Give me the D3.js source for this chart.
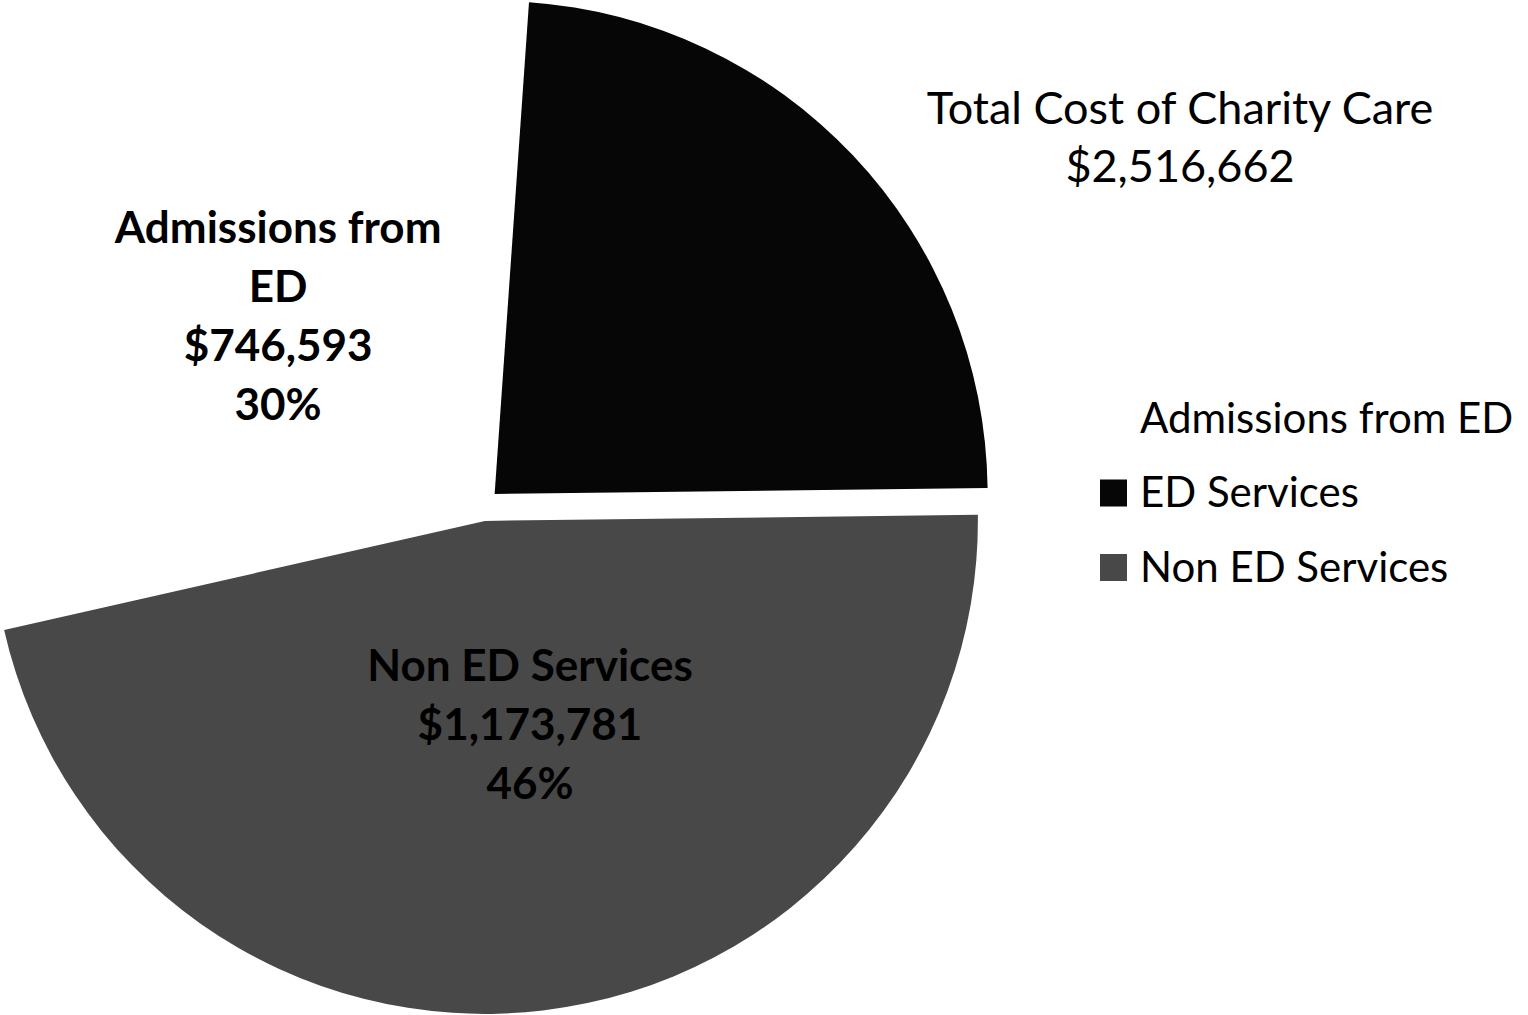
<!DOCTYPE html>
<html>
<head>
<meta charset="utf-8">
<script src="https://cdn.jsdelivr.net/npm/d3@7"></script>
<style>
  html, body { margin: 0; padding: 0; background: #fff; }
  svg { display: block; }
  text { font-family: Lato, "Open Sans", sans-serif; fill: #000; }
</style>
</head>
<body>
<div id="chart"></div>
<script>
// data
var categories = ["Admissions from ED", "ED Services", "Non ED Services"];
var costs = [746593, 596288, 1173781];
var percentLabels = ["30%", "24%", "46%"];
var sliceColors = ["#ffffff", "#060606", "#484848"];
var totalCost = 2516662;

var width = 1528, height = 1015;

var svg = d3.select("#chart")
  .append("svg")
  .attr("width", width)
  .attr("height", height);

// pie geometry
var cx = 483, cy = 505, radius = 493, explode = 16;
var firstSliceAngle = -102.8 * Math.PI / 180;

var pie = d3.pie()
  .sort(null)
  .value(function(d) { return d.value; })
  .startAngle(firstSliceAngle)
  .endAngle(firstSliceAngle + 2 * Math.PI);

var rows = categories.map(function(c, i) {
  return { name: c, value: costs[i], pct: percentLabels[i], color: sliceColors[i] };
});
var arcs = pie(rows);

var arc = d3.arc().innerRadius(0).outerRadius(radius);

function offset(d, dist, nudge) {
  var mid = (d.startAngle + d.endAngle) / 2 + (nudge || 0) * Math.PI / 180;
  return [Math.sin(mid) * dist, -Math.cos(mid) * dist];
}

var g = svg.append("g")
  .attr("transform", "translate(" + cx + "," + cy + ")");

g.selectAll("path.slice")
  .data(arcs)
  .enter()
  .append("path")
  .attr("class", "slice")
  .attr("fill", function(d) { return d.data.color; })
  .attr("transform", function(d) {
    var o = offset(d, explode);
    return "translate(" + o[0] + "," + o[1] + ")";
  })
  .attr("d", arc);

// data labels (ED Services label is black on black in the original, left out)
var fmt = d3.format("$,");
var labelSpots = {
  "Admissions from ED": { r: 0.533, nudge: 2.1, lines: function(d) { return ["Admissions from", "ED", fmt(d.data.value), d.data.pct]; } },
  "Non ED Services": { r: 0.424, nudge: -5.3, lines: function(d) { return [d.data.name, fmt(d.data.value), d.data.pct]; } }
};
var lineGap = 59;

arcs.forEach(function(d) {
  var spot = labelSpots[d.data.name];
  if (!spot) return;
  var p = offset(d, spot.r * radius + explode, spot.nudge);
  var lines = spot.lines(d);
  var t = g.append("text")
    .attr("text-anchor", "middle")
    .attr("font-weight", "bold")
    .attr("font-size", 44)
    .attr("x", p[0])
    .attr("y", p[1] - (lines.length - 1) * lineGap / 2);
  lines.forEach(function(l, i) {
    t.append("tspan")
      .attr("x", p[0])
      .attr("dy", i === 0 ? "0.35em" : lineGap)
      .text(l);
  });
});

// title box
var title = svg.append("text")
  .attr("text-anchor", "middle")
  .attr("font-size", 45)
  .attr("x", 1180)
  .attr("y", 108);
title.append("tspan").attr("x", 1180).attr("dy", "0.35em").text("Total Cost of Charity Care");
title.append("tspan").attr("x", 1180).attr("dy", 58).text(fmt(totalCost));

// legend
var legend = svg.append("g")
  .attr("transform", "translate(1100,418)");

var item = legend.selectAll("g.item")
  .data(rows)
  .enter()
  .append("g")
  .attr("class", "item")
  .attr("transform", function(d, i) { return "translate(0," + (i * 74.5) + ")"; });

item.append("rect")
  .attr("x", 0)
  .attr("y", -13)
  .attr("width", 27)
  .attr("height", 27)
  .attr("fill", function(d) { return d.color; });

item.append("text")
  .attr("x", 40)
  .attr("y", 0)
  .attr("dy", "0.35em")
  .attr("font-size", 42)
  .text(function(d) { return d.name; });
</script>
</body>
</html>
